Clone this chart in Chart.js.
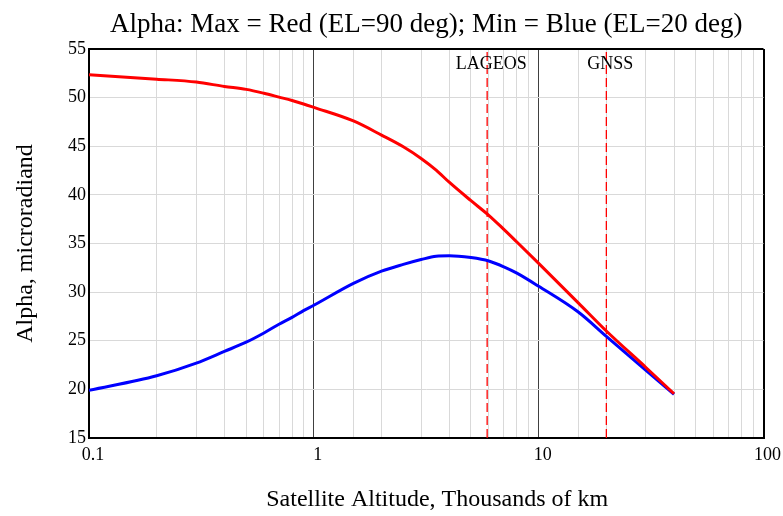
<!DOCTYPE html>
<html lang="en">
<head>
  <meta charset="UTF-8">
  <title>Alpha vs Satellite Altitude</title>
  <script src="https://cdn.jsdelivr.net/npm/chart.js"></script>
  <style>
    body { margin: 0; background: #fff; }
    #wrap { width: 783px; height: 516px; }
  </style>
</head>
<body>
  <div id="wrap"><canvas id="alphaChart"></canvas></div>

  <script>
    // altitude in thousands of km
    const altitude = [0.1, 0.2, 0.3, 0.4, 0.5, 0.6, 0.7, 0.8, 0.9, 1, 1.5, 2, 2.5, 3, 3.5, 4, 5, 6, 7, 8, 10, 15, 20, 30, 40];
    // Max alpha, EL = 90 deg (red)
    const alphaMax = [52.35, 51.9, 51.6, 51.15, 50.85, 50.45, 50.05, 49.7, 49.35, 49.0, 47.6, 46.15, 44.95, 43.75, 42.55, 41.3, 39.4, 37.9, 36.45, 35.15, 32.95, 28.9, 26.0, 22.25, 19.55];
    // Min alpha, EL = 20 deg (blue)
    const alphaMin = [19.9, 21.4, 22.7, 23.9, 24.85, 25.8, 26.7, 27.4, 28.1, 28.65, 30.9, 32.15, 32.85, 33.35, 33.7, 33.75, 33.55, 33.2, 32.6, 31.95, 30.6, 27.95, 25.45, 21.95, 19.5];

    const markerNames = ['LAGEOS', 'GNSS'];
    const markerAlt = [5.9, 20];

    const xRange = [0.1, 100];
    const yRange = [15, 55];
    const xTitle = 'Satellite Altitude, Thousands of km';

    const serif = '"Liberation Serif", "Times New Roman", serif';

    function isDecade(v) {
      const l = Math.log10(v);
      return Math.abs(l - Math.round(l)) < 1e-6;
    }

    const series = (ys) => altitude.map((a, i) => ({ x: a, y: ys[i] }));

    const datasets = [
      { label: 'Max', data: series(alphaMax), borderColor: '#ff0000', borderWidth: 3, pointRadius: 0, cubicInterpolationMode: 'monotone' },
      { label: 'Min', data: series(alphaMin), borderColor: '#0000ff', borderWidth: 3, pointRadius: 0, cubicInterpolationMode: 'monotone' }
    ];
    markerAlt.forEach((a, i) => {
      datasets.push({
        label: markerNames[i],
        data: [{ x: a, y: yRange[0] }, { x: a, y: yRange[1] }],
        borderColor: '#ff0000', borderWidth: 1.3, borderDash: [9, 4], pointRadius: 0
      });
    });

    // labels above the dashed lines + x axis title (sits a bit right of centre in the original)
    const extraText = {
      id: 'extraText',
      afterDatasetsDraw(chart) {
        const c = chart.ctx, xs = chart.scales.x, area = chart.chartArea;
        c.save();
        c.fillStyle = '#000';
        c.textAlign = 'center';
        c.textBaseline = 'middle';
        c.font = '18px ' + serif;
        markerAlt.forEach((a, i) => {
          c.fillText(markerNames[i], xs.getPixelForValue(a) + 4, area.top + 15);
        });
        c.font = '24px ' + serif;
        c.fillText(xTitle, (area.left + area.right) / 2 + 11, 500);
        c.restore();
      }
    };

    new Chart(document.getElementById('alphaChart'), {
      type: 'line',
      data: { datasets: datasets },
      plugins: [extraText],
      options: {
        responsive: true,
        maintainAspectRatio: false,
        animation: false,
        layout: { padding: { top: 0, right: 18, bottom: 0, left: 0 } },
        plugins: {
          legend: { display: false },
          tooltip: { enabled: false },
          title: {
            display: true,
            fullSize: false,
            text: 'Alpha: Max = Red (EL=90 deg); Min = Blue (EL=20 deg)',
            color: '#000',
            font: { family: serif, size: 27, weight: 'normal' },
            padding: { top: 9, bottom: 7.6 }
          }
        },
        scales: {
          x: {
            type: 'logarithmic',
            min: xRange[0],
            max: xRange[1],
            afterFit: (s) => { s.height = 78; },
            ticks: {
              autoSkip: false,
              maxRotation: 0,
              color: '#000',
              padding: 6,
              labelOffset: 4,
              font: { family: serif, size: 18 },
              callback: (v) => isDecade(v) ? String(+v.toPrecision(3)) : ''
            },
            grid: {
              drawTicks: false,
              color: (ctx) => {
                const v = ctx.tick.value;
                if (v <= xRange[0] * 1.0001 || v >= xRange[1] * 0.9999) return '#000';
                return isDecade(v) ? '#404040' : '#d9d9d9';
              },
              lineWidth: (ctx) => {
                const v = ctx.tick.value;
                return (v <= xRange[0] * 1.0001 || v >= xRange[1] * 0.9999) ? 2 : 1;
              }
            },
            border: { color: '#000', width: 2 }
          },
          y: {
            min: yRange[0],
            max: yRange[1],
            afterFit: (s) => { s.width = 89; },
            ticks: {
              stepSize: 5,
              color: '#000',
              padding: 3,
              font: { family: serif, size: 18 }
            },
            grid: {
              drawTicks: false,
              color: (ctx) => ctx.tick.value === yRange[1] ? '#000' : '#d9d9d9',
              lineWidth: (ctx) => ctx.tick.value === yRange[1] ? 2 : 1
            },
            border: { color: '#000', width: 2 },
            title: {
              display: true,
              text: 'Alpha, microradiand',
              color: '#000',
              font: { family: serif, size: 24 },
              padding: { top: 11, bottom: 0 }
            }
          }
        }
      }
    });
  </script>
</body>
</html>
